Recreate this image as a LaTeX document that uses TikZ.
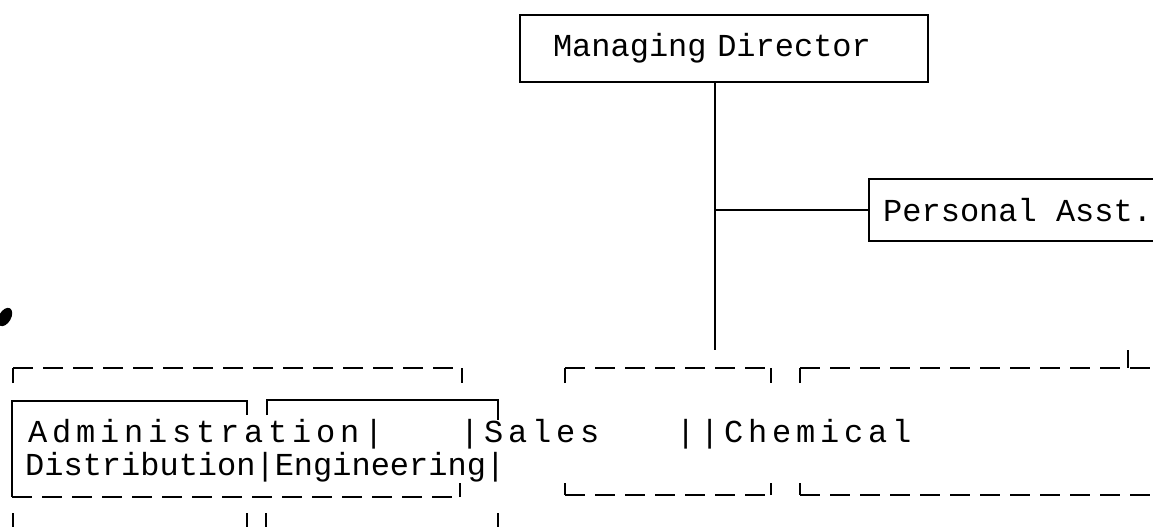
\documentclass[tikz,border=0pt]{standalone}
\usepackage{fontspec}
\setmonofont{Liberation Mono}
\newfontfamily\widemono[LetterSpace=15]{Liberation Mono}
\usetikzlibrary{positioning}

\begin{document}
\begin{tikzpicture}[x=0.5pt, y=-0.5pt, line width=1.2pt,
    font=\ttfamily\fontsize{16}{16}\selectfont,
    box/.style={draw, rectangle, inner ysep=0pt},
    txt/.style={anchor=base west, inner sep=0pt},
    wide/.style={txt, font=\widemono\fontsize{16}{16}\selectfont},
    dashline/.style={dash pattern=on 10pt off 5pt}]
    \useasboundingbox (0,0) rectangle (1153,526);

    \node (md) [box, minimum height=33.5pt, text width=171pt, inner xsep=16.5pt, align=left] at (724,48.5) {Managing Director};
    \node (pa) [box, anchor=west, minimum height=31pt, inner xsep=7pt] at (868,210) {Personal Asst.};
    \coordinate (stem) at (715,350);
    \draw (md.south -| stem) -- (stem);
    \draw (pa.west -| stem) -- (pa.west);

    % departments line
    \node (admin) [wide] at (27,442) {Administration|};
    \node (sales) [wide] at (459,442) {|Sales};
    \node (chem) [wide] at (675,442) {||Chemical};
    \node (dist) [txt] at (24,475) {Distribution|Engineering|};

    % Administration / Engineering
    \draw (13,383) -- (13,368);
    \draw[dashline] (13,368) -- (462,368);
    \draw (462,368) -- (462,383);
    \draw (12,497) -- (12,401) -- (247,401) -- (247,415);
    \draw (267,415) -- (267,400) -- (498,400) -- (498,420);
    \draw[dashline] (12,497) -- (460,497);
    \draw (460,497) -- (460,483);
    \foreach \x in {13,247,266,498}
        \draw (\x,513) -- (\x,530);

    % Sales
    \draw (565,383) -- (565,368);
    \draw[dashline] (565,368) -- (771,368);
    \draw (771,368) -- (771,383);
    \draw (565,483) -- (565,495);
    \draw[dashline] (565,495) -- (771,495);
    \draw (771,495) -- (771,483);

    % Chemical
    \draw (800,383) -- (800,368);
    \draw[dashline] (800,368) -- (1160,368);
    \draw (1128,350) -- (1128,368);
    \draw (800,483) -- (800,495);
    \draw[dashline] (800,495) -- (1160,495);

    \fill[rotate around={-30:(5,317)}] (5,317) ellipse [x radius=6, y radius=10];
\end{tikzpicture}
\end{document}
